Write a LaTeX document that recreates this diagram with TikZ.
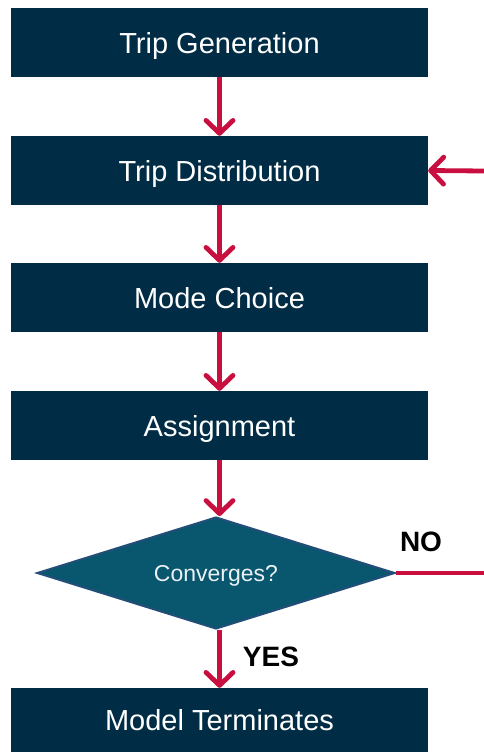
\documentclass[tikz,border=0pt]{standalone}
\usepackage{fontspec}
\setmainfont{Liberation Sans}
\usetikzlibrary{arrows.meta,shapes.geometric}
\definecolor{boxnavy}{HTML}{002C45}
\definecolor{dianavy}{HTML}{08576F}
\definecolor{diaedge}{HTML}{224E78}
\definecolor{arrred}{HTML}{C80F3F}
\tikzset{
  stepbox/.style={draw=none, fill=boxnavy, minimum width=417pt, minimum height=69pt, inner sep=0pt, text depth=0pt, text=white, font=\fontsize{29}{34}\selectfont},
  flowarrow/.style={draw=arrred, line width=4.8pt, -{Straight Barb[length=13pt,width=27pt,round]}},
  flowline/.style={draw=arrred, line width=4.8pt},
  lbl/.style={font=\bfseries\fontsize{28}{33}\selectfont, text=black}
}
\begin{document}
\begin{tikzpicture}[x=1pt,y=-1pt]
\useasboundingbox (0,0) rectangle (484,752);
\node[stepbox] (gen) at (219.5,42.5) {Trip Generation};
\node[stepbox] (dist) at (219.5,170.5) {Trip Distribution};
\node[stepbox] (mode) at (219.5,297.5) {Mode Choice};
\node[stepbox] (assign) at (219.5,425.5) {Assignment};
\node[diamond, aspect=3.16, fill=dianavy, draw=diaedge, line width=2pt, minimum width=358pt, minimum height=112pt, inner sep=0pt, text depth=0pt, text=white!92!dianavy, font=\fontsize{23}{27}\selectfont] (conv) at (216,573) {Converges?};
\node[stepbox, minimum height=64pt] (term) at (219.5,720) {Model Terminates};
\coordinate (noend) at (484,573);
\coordinate (backin) at (484,171);
\draw[flowarrow] (gen) -- (dist);
\draw[flowarrow] (dist) -- (mode);
\draw[flowarrow] (mode) -- (assign);
\draw[flowarrow] (assign.south) -- (conv.north -| assign.south);
\draw[flowarrow] (conv.south -| term.north) -- (term.north);
\draw[flowline] (conv.east) -- (noend);
\draw[flowarrow] (backin) -- (dist.east);
\node[lbl] (no) at (421,542) {NO};
\node[lbl] (yes) at (271,657) {YES};
\end{tikzpicture}
\end{document}
